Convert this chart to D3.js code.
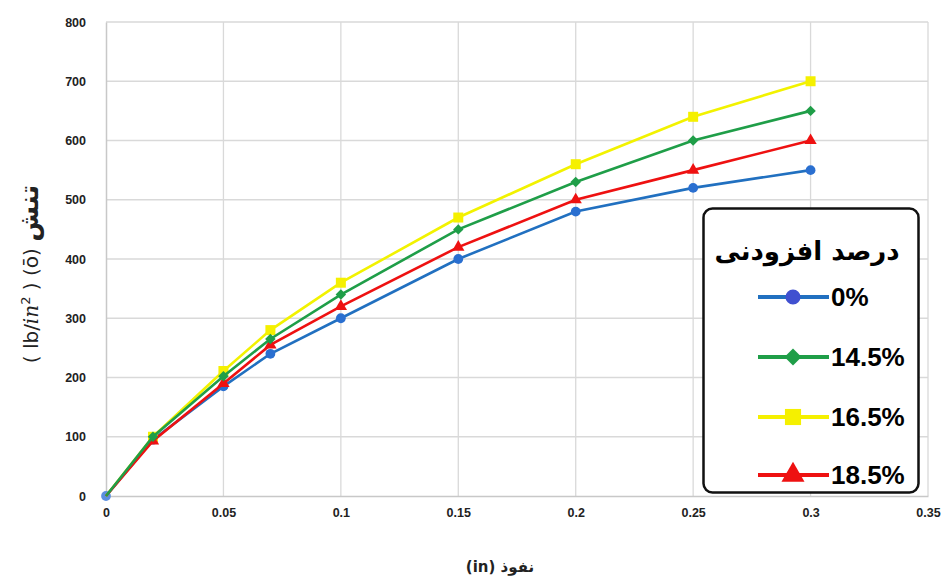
<!DOCTYPE html>
<html><head><meta charset="utf-8">
<script src="https://cdn.jsdelivr.net/npm/d3@7/dist/d3.min.js"></script>
<style>body{margin:0;background:#fff}svg{display:block}</style>
</head><body>
<svg id="c" width="946" height="579"></svg>
<script>
const penetration = [0, 0.02, 0.05, 0.07, 0.1, 0.15, 0.2, 0.25, 0.3];
const s0   = [0, 95, 185, 240, 300, 400, 480, 520, 550];
const s145 = [0, 100, 202, 265, 340, 450, 530, 600, 650];
const s165 = [0, 100, 211, 280, 360, 470, 560, 640, 700];
const s185 = [0, 93, 190, 255, 320, 420, 500, 550, 600];
const seriesNames = ["0%", "14.5%", "16.5%", "18.5%"];
const xTicks = [0, 0.05, 0.1, 0.15, 0.2, 0.25, 0.3, 0.35];
const xTickLabels = ["0", "0.05", "0.1", "0.15", "0.2", "0.25", "0.3", "0.35"];
const yTicks = [0, 100, 200, 300, 400, 500, 600, 700, 800];
const legendTitle = "درصد افزودنی";
const xTitle = "(in) نفوذ";

const series = [
  {name: seriesNames[0], values: s0,   color: "#2170c0", mColor: "#2a6fd0", lColor: "#4050d0", shape: "circle"},
  {name: seriesNames[1], values: s145, color: "#1f9e48", mColor: "#1f9e48", lColor: "#1f9e48", shape: "diamond"},
  {name: seriesNames[2], values: s165, color: "#f2f200", mColor: "#f5f000", lColor: "#f5f000", shape: "square"},
  {name: seriesNames[3], values: s185, color: "#ee1111", mColor: "#ee1111", lColor: "#ee1111", shape: "triangle"}
];
const drawOrder = [0, 2, 3, 1];

const svg = d3.select("#c");
const x = d3.scaleLinear().domain([0, 0.35]).range([106, 928]);
const y = d3.scaleLinear().domain([0, 800]).range([496, 22]);

// grid
svg.append("g").selectAll("line").data(yTicks.slice(1)).join("line")
  .attr("x1", x(0)).attr("x2", x(0.35)).attr("y1", d => y(d)).attr("y2", d => y(d))
  .attr("stroke", "#d9d9d9").attr("stroke-width", 1.3);
svg.append("g").selectAll("line").data(xTicks.slice(1)).join("line")
  .attr("x1", d => x(d)).attr("x2", d => x(d)).attr("y1", y(0)).attr("y2", y(800))
  .attr("stroke", "#d9d9d9").attr("stroke-width", 1.3);

// axes
const xAxis = d3.axisBottom(x).tickValues(xTicks).tickFormat((d, i) => xTickLabels[i]).tickSize(0).tickPadding(12);
const gx = svg.append("g").attr("transform", `translate(0,${y(0)})`).call(xAxis);
const yAxis = d3.axisLeft(y).tickValues(yTicks).tickSize(0).tickPadding(20);
const gy = svg.append("g").attr("transform", `translate(${x(0)},0)`).call(yAxis);
[gx, gy].forEach(g => {
  g.select(".domain").attr("stroke", "#c8c8c8").attr("stroke-width", 1.5);
  g.selectAll("text").attr("font-family", "Liberation Sans, Arial, sans-serif")
    .attr("font-weight", "bold").attr("font-size", 12.5).attr("fill", "#222");
});

// symbols
function sym(shape, size) {
  const t = {circle: d3.symbolCircle, diamond: d3.symbolSquare, square: d3.symbolSquare, triangle: d3.symbolTriangle}[shape];
  return d3.symbol().type(t).size(size)();
}
const rot = shape => shape === "diamond" ? " rotate(45)" : "";
const sizes = {circle: 75, diamond: 55, square: 100, triangle: 65};

const line = d3.line().x((d, i) => x(penetration[i])).y(d => y(d));
drawOrder.forEach(k => {
  const s = series[k];
  const g = svg.append("g");
  g.append("path").datum(s.values).attr("d", line)
    .attr("fill", "none").attr("stroke", s.color).attr("stroke-width", 2.6);
  const pts = s.values.map((v, i) => ({v, i})).filter(p => k === 0 || p.i > 0);
  g.selectAll("path.m").data(pts).join("path").attr("class", "m")
    .attr("transform", p => `translate(${x(penetration[p.i])},${y(p.v)})${rot(s.shape)}`)
    .attr("d", sym(s.shape, sizes[s.shape])).attr("fill", p => (k === 0 && p.i === 0) ? "#5b8fe0" : s.mColor);
});

// legend
const lg = svg.append("g");
lg.append("rect").attr("x", 703.5).attr("y", 208.5).attr("width", 215).attr("height", 284)
  .attr("rx", 9).attr("fill", "#fff").attr("stroke", "#111").attr("stroke-width", 2.5);
lg.append("text").attr("x", 807).attr("y", 260).attr("text-anchor", "middle")
  .attr("font-family", "DejaVu Sans, sans-serif").attr("font-weight", "bold").attr("font-size", 26)
  .attr("fill", "#000").text(legendTitle);
const ly = [297, 357, 417, 475];
series.forEach((s, i) => {
  lg.append("line").attr("x1", 758).attr("x2", 829).attr("y1", ly[i]).attr("y2", ly[i])
    .attr("stroke", s.color === "#f2f200" ? "#f5f000" : s.color).attr("stroke-width", 4);
  lg.append("path").attr("transform", `translate(793,${ly[i]})${rot(s.shape)}`)
    .attr("d", sym(s.shape, {circle: 180, diamond: 145, square: 260, triangle: 230}[s.shape]))
    .attr("fill", s.lColor);
  lg.append("text").attr("x", 831).attr("y", ly[i] + 9)
    .attr("font-family", "Liberation Sans, Arial, sans-serif").attr("font-weight", "bold")
    .attr("font-size", 26).attr("fill", "#000").text(s.name);
});

// axis titles
svg.append("text").attr("x", 500).attr("y", 572).attr("text-anchor", "middle")
  .attr("font-family", "DejaVu Sans, sans-serif").attr("font-size", 15).attr("font-weight", "bold")
  .attr("fill", "#222").attr("direction", "ltr").text(xTitle);

const yt = svg.append("text").attr("transform", "translate(38,274) rotate(-90)")
  .attr("text-anchor", "middle").attr("direction", "ltr")
  .attr("font-family", "DejaVu Sans, sans-serif").attr("font-size", 20).attr("fill", "#222");
yt.append("tspan").text("( lb/");
yt.append("tspan").attr("font-style", "italic").attr("font-family", "DejaVu Serif, serif").text("in");
yt.append("tspan").attr("font-size", 13).attr("dy", -8).text("2");
yt.append("tspan").attr("dy", 8).text(" ) (ō) ");
yt.append("tspan").attr("font-size", 26).attr("font-weight", "bold").text("تنش");
</script>
</body></html>
